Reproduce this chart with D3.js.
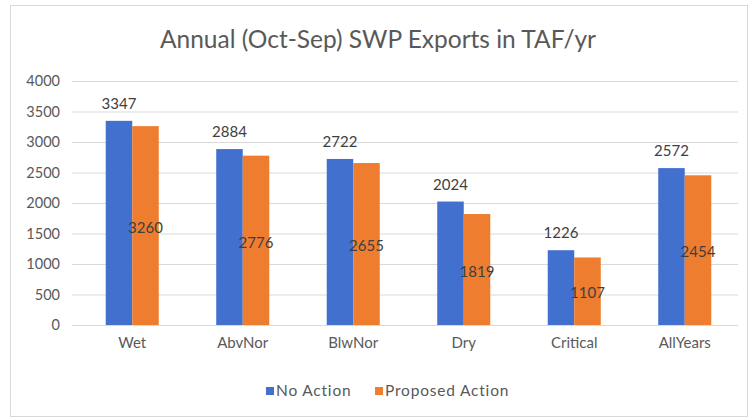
<!DOCTYPE html>
<html><head><meta charset="utf-8">
<script src="https://cdn.jsdelivr.net/npm/d3@7"></script>
<style>body{margin:0;background:#fff}svg{display:block}text{font-family:Lato,"Open Sans",sans-serif}</style>
</head><body><svg id="c" width="752" height="419"></svg>
<script>
const categories = ["Wet","AbvNor","BlwNor","Dry","Critical","AllYears"];
const noAction = [3347,2884,2722,2024,1226,2572];
const proposedAction = [3260,2776,2655,1819,1107,2454];
const seriesNames = ["No Action","Proposed Action"];
const yTicks = [0,500,1000,1500,2000,2500,3000,3500,4000];
const title = "Annual (Oct-Sep) SWP Exports in TAF/yr";

const colors = ["#4170CF","#EE7D2F"];
const svg = d3.select("#c");
svg.append("rect").attr("x",10.5).attr("y",5.5).attr("width",737).attr("height",411)
  .attr("fill","#fff").attr("stroke","#d9d9d9");

const y = d3.scaleLinear().domain([0,4000]).range([325,81]);
const x0 = d3.scaleBand().domain(categories).range([77,740]).paddingInner(0.52).paddingOuter(0.26);
const x1 = d3.scaleBand().domain(seriesNames).range([0,x0.bandwidth()]);

svg.append("text").attr("x",378).attr("y",48).attr("text-anchor","middle")
  .attr("font-size",24.5).attr("fill","#595959").text(title);

const yAxis = svg.append("g").attr("transform","translate(72,0)")
  .call(d3.axisLeft(y).tickValues(yTicks).tickSize(-666).tickPadding(12).tickFormat(d3.format("d")));
yAxis.select(".domain").remove();
yAxis.selectAll("line").attr("stroke","#d9d9d9");
yAxis.selectAll("text").attr("font-size",14.5).attr("fill","#595959").attr("font-family","Lato,sans-serif");

const xAxis = svg.append("g").attr("transform","translate(0,325)")
  .call(d3.axisBottom(x0).tickSize(0).tickPadding(12));
xAxis.select(".domain").remove();
xAxis.selectAll("text").attr("font-size",15).attr("fill","#595959").attr("font-family","Lato,sans-serif");

const data = categories.map((c,i)=>({c, vals:[noAction[i],proposedAction[i]]}));
const g = svg.selectAll("g.cat").data(data).join("g").attr("class","cat")
  .attr("transform",d=>`translate(${x0(d.c)},0)`);
g.selectAll("rect").data(d=>d.vals.map((v,j)=>({s:seriesNames[j],v,j}))).join("rect")
  .attr("x",d=>x1(d.s)).attr("width",x1.bandwidth())
  .attr("y",d=>y(d.v)).attr("height",d=>y(0)-y(d.v)).attr("fill",d=>colors[d.j]);
// No Action labels above bars
g.append("text").attr("x",x1(seriesNames[0])+x1.bandwidth()/2).attr("y",d=>y(d.vals[0])-12)
  .attr("text-anchor","middle").attr("font-size",15).attr("fill","#404040").text(d=>d.vals[0]);
// Proposed Action labels centered inside bars
g.append("text").attr("x",x1(seriesNames[1])+x1.bandwidth()/2).attr("y",d=>(y(d.vals[1])+y(0))/2+2)
  .attr("dy","0.35em").attr("text-anchor","middle").attr("font-size",15).attr("fill","#404040").text(d=>d.vals[1]);

// legend
const leg = svg.append("g").attr("transform","translate(0,391)");
const lx = [266,375];
seriesNames.forEach((s,i)=>{
  leg.append("rect").attr("x",lx[i]).attr("y",-4).attr("width",8).attr("height",8).attr("fill",colors[i]);
  leg.append("text").attr("x",lx[i]+10).attr("y",0).attr("dy","0.35em").attr("font-size",15.5)
    .attr("letter-spacing",0.8).attr("fill","#595959").text(s);
});
</script></body></html>
